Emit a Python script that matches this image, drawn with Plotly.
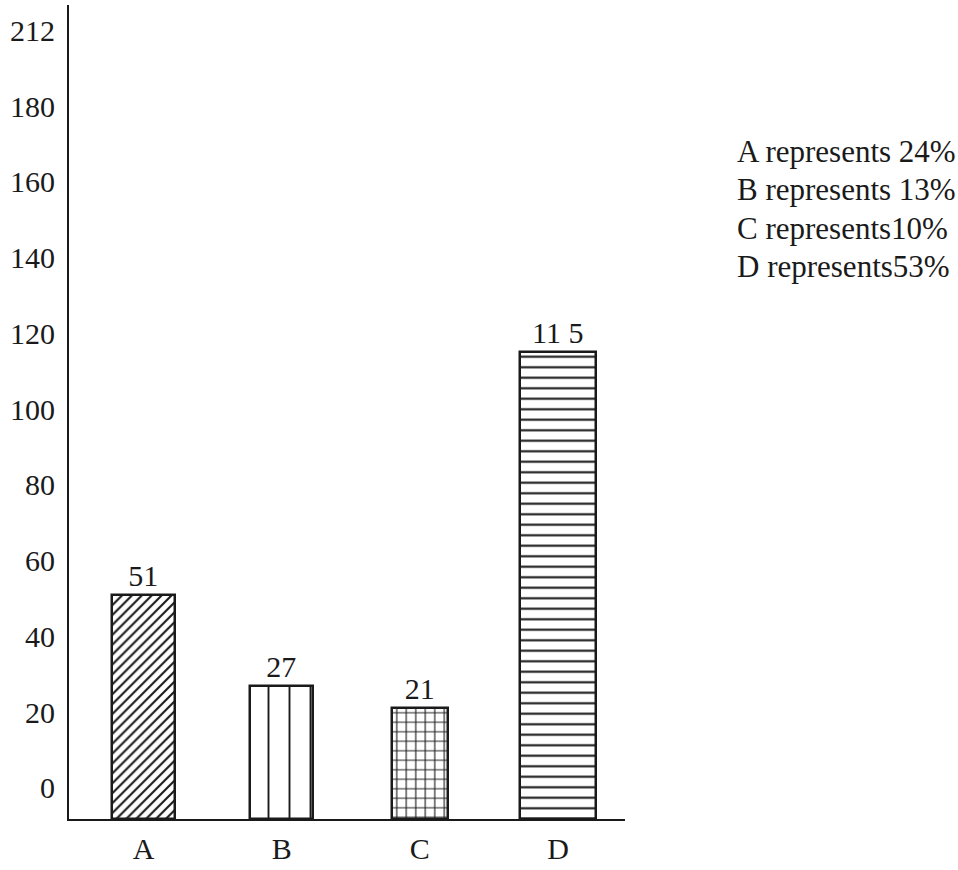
import plotly.graph_objects as go

categories = ["A", "B", "C", "D"]
values = [51, 27, 21, 115]
value_labels = ["51", "27", "21", "11 5"]
bar_widths = [0.46, 0.455, 0.405, 0.55]
patterns = ["/", "|", "+", "-"]
pattern_sizes = [7, 21, 9.5, 10.5]
pattern_solidity = [0.3, 0.09, 0.22, 0.2]
tick_vals = [0, 20, 40, 60, 80, 100, 120, 140, 160, 180, 200]
tick_text = ["0", "20", "40", "60", "80", "100", "120", "140", "160", "180", "212"]
legend_lines = ["A represents 24%", "B represents 13%", "C represents10%", "D represents53%"]

Y_MIN = -8.2
Y_MAX = 206.7

font = "Liberation Serif, Times New Roman, serif"
ink = "#1a1a1a"

W, H = 958, 870
ml, mr, mt, mb = 69, 333, 5, 41
pw, ph = W - ml - mr, H - mt - mb

fig = go.Figure()
for i, c in enumerate(categories):
    fig.add_trace(go.Bar(
        x=[i],
        y=[values[i] - Y_MIN],
        base=[Y_MIN],
        width=[bar_widths[i]],
        text=[value_labels[i]],
        textposition="outside",
        textfont=dict(family=font, size=30, color=ink),
        cliponaxis=False,
        marker=dict(
            color="white",
            line=dict(color=ink, width=2.5),
            pattern=dict(shape=patterns[i], size=pattern_sizes[i],
                         solidity=pattern_solidity[i], fgcolor=ink,
                         bgcolor="white", fillmode="replace",
                         fgopacity=1),
        ),
        showlegend=False,
        hoverinfo="skip",
    ))

legend_y_px = [153, 192, 231, 270]
for j, line in enumerate(legend_lines):
    fig.add_annotation(
        x=(735 - ml) / pw, y=1 - (legend_y_px[j] - mt) / ph,
        xref="paper", yref="paper",
        text=line, showarrow=False, xanchor="left", yanchor="middle",
        font=dict(family=font, size=31, color=ink),
    )

fig.update_layout(
    width=W, height=H,
    margin=dict(l=ml, r=mr, t=mt, b=mb),
    plot_bgcolor="white", paper_bgcolor="white",
    font=dict(family=font, color=ink),
    bargap=0,
    xaxis=dict(
        range=[-0.54, 3.485],
        tickvals=list(range(len(categories))),
        ticktext=categories,
        tickfont=dict(family=font, size=30, color=ink),
        showgrid=False, zeroline=False,
        showline=True, linecolor=ink, linewidth=2,
        ticks="outside", ticklen=2, tickcolor="rgba(0,0,0,0)",
    ),
    yaxis=dict(
        range=[Y_MIN, Y_MAX],
        tickvals=tick_vals, ticktext=tick_text,
        tickfont=dict(family=font, size=30, color=ink),
        showgrid=False, zeroline=False,
        showline=True, linecolor=ink, linewidth=2,
        ticks="outside", ticklen=6, tickcolor="rgba(0,0,0,0)",
        automargin=False,
    ),
)

fig.write_html("out.html", config={"displayModeBar": False},
               post_script="document.body.style.margin='0';")
